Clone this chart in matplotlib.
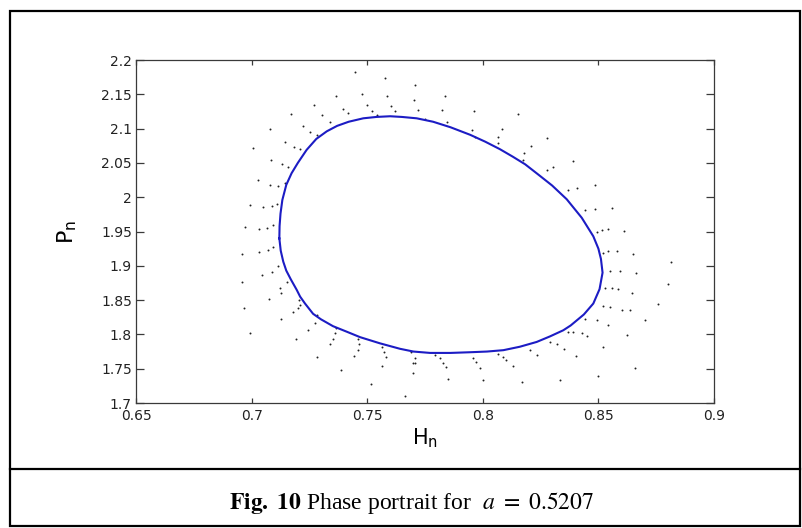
import matplotlib
matplotlib.use('Agg')
import matplotlib.pyplot as plt
from matplotlib.patches import Rectangle
from matplotlib.lines import Line2D

# limit cycle (H_n, P_n), traced clockwise from the leftmost point
cycle_h = [0.7120, 0.7121, 0.7125, 0.7133, 0.7150, 0.7173, 0.7200, 0.7238,
           0.7280, 0.7325, 0.7370, 0.7420, 0.7483, 0.7540, 0.7599, 0.7650,
           0.7714, 0.7785, 0.7860, 0.7945, 0.8010, 0.8074, 0.8130, 0.8183,
           0.8240, 0.8300, 0.8363, 0.8428, 0.8478, 0.8500, 0.8511, 0.8518,
           0.8505, 0.8478, 0.8437, 0.8380, 0.8348, 0.8290, 0.8233, 0.8160,
           0.8089, 0.8018, 0.7945, 0.7860, 0.7772, 0.7700, 0.7642, 0.7555,
           0.7469, 0.7411, 0.7352, 0.7300, 0.7266, 0.7231, 0.7210, 0.7195,
           0.7170, 0.7150, 0.7137, 0.7126, 0.7120]
cycle_p = [1.940, 1.958, 1.976, 1.996, 2.018, 2.035, 2.050, 2.069,
           2.085, 2.096, 2.104, 2.110, 2.115, 2.117, 2.118, 2.117,
           2.115, 2.110, 2.102, 2.091, 2.081, 2.070, 2.059, 2.048,
           2.033, 2.017, 1.997, 1.970, 1.943, 1.925, 1.910, 1.890,
           1.866, 1.845, 1.829, 1.813, 1.806, 1.797, 1.789, 1.782,
           1.777, 1.775, 1.774, 1.773, 1.773, 1.775, 1.779, 1.787,
           1.796, 1.804, 1.812, 1.822, 1.830, 1.845, 1.855, 1.865,
           1.880, 1.893, 1.906, 1.922, 1.940]

# transient iterates approaching the cycle
iter_h = [0.7447, 0.7577, 0.7707, 0.7836, 0.7365, 0.7476, 0.7584, 0.7702,
          0.7270, 0.7498, 0.7603, 0.7720, 0.7824, 0.7170, 0.7303, 0.7394,
          0.7519, 0.7620, 0.7750, 0.7844, 0.7417, 0.7541, 0.7339, 0.7080,
          0.7221, 0.7253, 0.7282, 0.7144, 0.7185, 0.7209, 0.7005, 0.7083,
          0.7130, 0.7159,
          0.7962, 0.8154, 0.7952, 0.8084, 0.8067, 0.7966, 0.8279, 0.8208,
          0.8067, 0.8178, 0.8173, 0.8391, 0.8305, 0.8276,
          0.7029, 0.7080, 0.7115, 0.7144, 0.6993, 0.7048, 0.7087, 0.7109,
          0.6971, 0.7033, 0.7068, 0.7091, 0.6957, 0.7033, 0.7072, 0.7094,
          0.7044, 0.7087, 0.7115, 0.6957, 0.7123, 0.7152,
          0.8406, 0.8485, 0.8370, 0.8442, 0.8485, 0.8558, 0.8493, 0.8514,
          0.8543, 0.8611, 0.8521, 0.8543, 0.8579, 0.8651, 0.8813, 0.8550,
          0.8593, 0.8663, 0.8802, 0.8529, 0.8558, 0.8586,
          0.8759, 0.8702, 0.8622, 0.8543, 0.8637, 0.8601, 0.8550, 0.8521,
          0.8493, 0.8449, 0.8428, 0.8370, 0.8519, 0.8644, 0.8442, 0.8391,
          0.8322, 0.8291, 0.8351, 0.8233, 0.8403, 0.8204, 0.8100, 0.8089,
          0.8067, 0.8658, 0.8129, 0.8497, 0.8334, 0.8168, 0.8000, 0.7969,
          0.7988, 0.7956, 0.7848, 0.7698, 0.7663,
          0.7126, 0.7077, 0.6967, 0.7206, 0.7209, 0.7202, 0.7178, 0.7126,
          0.7282, 0.7274, 0.6993, 0.7245, 0.7192, 0.7365, 0.7361, 0.7351,
          0.7339, 0.7282, 0.7462, 0.7465, 0.7459, 0.7443, 0.7563, 0.7573,
          0.7581, 0.7563, 0.7385, 0.7515, 0.7688, 0.7707, 0.7707, 0.7697,
          0.7829, 0.7841, 0.7815, 0.7793]
iter_p = [2.182, 2.174, 2.164, 2.147, 2.147, 2.150, 2.148, 2.141,
          2.135, 2.135, 2.133, 2.127, 2.127, 2.121, 2.120, 2.128,
          2.126, 2.125, 2.114, 2.110, 2.123, 2.120, 2.109, 2.100,
          2.104, 2.095, 2.091, 2.081, 2.073, 2.070, 2.072, 2.054,
          2.048, 2.044,
          2.125, 2.121, 2.098, 2.100, 2.088, 2.088, 2.087, 2.074,
          2.079, 2.064, 2.054, 2.053, 2.044, 2.039,
          2.025, 2.018, 2.016, 2.020, 1.989, 1.986, 1.987, 1.990,
          1.956, 1.954, 1.955, 1.959, 1.917, 1.920, 1.923, 1.928,
          1.887, 1.891, 1.899, 1.877, 1.867, 1.877,
          2.013, 2.018, 2.010, 1.981, 1.983, 1.984, 1.950, 1.952,
          1.953, 1.951, 1.918, 1.921, 1.921, 1.917, 1.906, 1.892,
          1.893, 1.889, 1.874, 1.867, 1.867, 1.866,
          1.845, 1.821, 1.799, 1.814, 1.836, 1.836, 1.840, 1.841,
          1.821, 1.797, 1.802, 1.804, 1.782, 1.860, 1.822, 1.804,
          1.786, 1.789, 1.778, 1.770, 1.769, 1.777, 1.763, 1.767,
          1.772, 1.751, 1.754, 1.739, 1.734, 1.731, 1.733, 1.760,
          1.751, 1.765, 1.735, 1.758, 1.710,
          1.861, 1.851, 1.838, 1.850, 1.843, 1.838, 1.832, 1.822,
          1.829, 1.817, 1.802, 1.806, 1.793, 1.809, 1.802, 1.794,
          1.786, 1.767, 1.794, 1.786, 1.777, 1.769, 1.781, 1.775,
          1.767, 1.754, 1.748, 1.728, 1.775, 1.765, 1.759, 1.744,
          1.759, 1.752, 1.765, 1.770]

x_ticks = [0.65, 0.7, 0.75, 0.8, 0.85, 0.9]
x_labels = ['0.65', '0.7', '0.75', '0.8', '0.85', '0.9']
y_ticks = [1.7, 1.75, 1.8, 1.85, 1.9, 1.95, 2.0, 2.05, 2.1, 2.15, 2.2]
y_labels = ['1.7', '1.75', '1.8', '1.85', '1.9', '1.95', '2', '2.05', '2.1', '2.15', '2.2']

plt.rcParams['mathtext.fontset'] = 'stix'

fig = plt.figure(figsize=(8.02, 5.28), dpi=100)
W, H = 802, 528

# outer frame and caption divider
fig.add_artist(Rectangle((10 / W, 1 - 526 / H), 790 / W, 515 / H,
                         transform=fig.transFigure, fill=False,
                         edgecolor='black', linewidth=1.6))
fig.add_artist(Line2D([10 / W, 800 / W], [1 - 469 / H, 1 - 469 / H],
                      transform=fig.transFigure, color='black', linewidth=1.6))

ax = fig.add_axes([136 / W, 1 - 403 / H, 578 / W, 343 / H])
ax.scatter(iter_h, iter_p, s=2.0, color='#222222', linewidths=0, zorder=2)
ax.plot(cycle_h, cycle_p, color='#1c1cc4', linewidth=1.5, zorder=3)

ax.set_xlim(0.65, 0.9)
ax.set_ylim(1.7, 2.2)
ax.set_xticks(x_ticks)
ax.set_xticklabels(x_labels)
ax.set_yticks(y_ticks)
ax.set_yticklabels(y_labels)

for s in ax.spines.values():
    s.set_color('#3a3a3a')
    s.set_linewidth(0.9)
ax.tick_params(axis='both', direction='in', colors='#3a3a3a',
               labelcolor='#222222', labelsize=10, width=0.9)
ax.tick_params(axis='x', length=3.5, pad=4, top=True)
ax.tick_params(axis='y', length=5.5, pad=3, right=True)

ax.set_xlabel(r'$\mathregular{H_n}$', fontsize=15, labelpad=3)
ax.set_ylabel(r'$\mathregular{P_n}$', fontsize=16, labelpad=16)

fig.text(412 / W, 1 - 503 / H,
         r'$\mathbf{Fig.\ 10}$ Phase portrait for  $a\ =\ 0.5207$',
         ha='center', va='center', fontsize=17, family='Liberation Serif')

fig.savefig('out.png', dpi=100)
